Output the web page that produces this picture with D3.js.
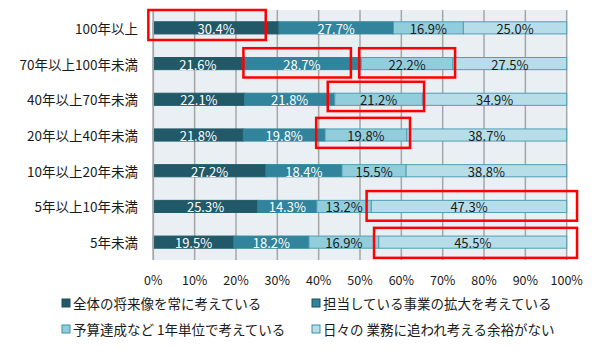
<!DOCTYPE html>
<html><head><meta charset="utf-8">
<script src="https://cdn.jsdelivr.net/npm/d3@7"></script>
<style>
html,body{margin:0;padding:0;background:#fff;}
text{font-family:"Noto Sans CJK JP","Noto Sans",sans-serif;}
</style></head>
<body><svg id="c" width="600" height="358"></svg>
<script>
const categories = ["100年以上","70年以上100年未満","40年以上70年未満","20年以上40年未満","10年以上20年未満","5年以上10年未満","5年未満"];
const seriesNames = ["全体の将来像を常に考えている","担当している事業の拡大を考えている","予算達成など 1年単位で考えている","日々の 業務に追われ考える余裕がない"];
const s1 = [30.4,21.6,22.1,21.8,27.2,25.3,19.5];
const s2 = [27.7,28.7,21.8,19.8,18.4,14.3,18.2];
const s3 = [16.9,22.2,21.2,19.8,15.5,13.2,16.9];
const s4 = [25.0,27.5,34.9,38.7,38.8,47.3,45.5];
const ticks = [0,10,20,30,40,50,60,70,80,90,100];
// highlight boxes in data units: row index, x range (%), y range (fraction of row step around center)
const highlights = [
  {row:0, x0:-1.2, x1:27.2, y0:-0.50, y1:0.34},
  {row:1, x0:21.8, x1:47.8, y0:-0.43, y1:0.39},
  {row:1, x0:49.8, x1:73.0, y0:-0.43, y1:0.39},
  {row:2, x0:42.2, x1:65.5, y0:-0.49, y1:0.33},
  {row:3, x0:39.4, x1:62.1, y0:-0.48, y1:0.36},
  {row:5, x0:51.6, x1:102.5, y0:-0.43, y1:0.40},
  {row:6, x0:53.4, x1:102.5, y0:-0.40, y1:0.44}
];

const colors = ["#215968","#31849b","#92cddc","#b7dee8"];
const labelColors = ["#ffffff","#ffffff","#1a1a1a","#1a1a1a"];
const series = [s1,s2,s3,s4];

const svg = d3.select("#c");
const L = 153.3, R = 566.7, T = 10, B = 260;
const x = d3.scaleLinear().domain([0,100]).range([L,R]);
const y = d3.scaleBand().domain(categories).range([T,B]).paddingInner(0.66).paddingOuter(0.33);
const step = y.step();

svg.append("rect").attr("x",L).attr("y",T).attr("width",R-L).attr("height",B-T).attr("fill","#e9eff3");
svg.append("g").selectAll("line").data(ticks).join("line")
  .attr("x1",d=>x(d)).attr("x2",d=>x(d)).attr("y1",T).attr("y2",B)
  .attr("stroke","#a6a6a6").attr("stroke-width",1.5);

const rows = categories.map((c,i)=>{
  const vals = series.map(s=>s[i]);
  const sum = d3.sum(vals);
  let acc = 0;
  return vals.map((v,k)=>{const a=acc/sum*100; acc+=v; return {cat:c,k,v,start:a,end:acc/sum*100};});
});

const g = svg.append("g");
rows.forEach(r=>{
  r.forEach(d=>{
    g.append("rect").attr("x",x(d.start)).attr("y",y(d.cat)).attr("width",x(d.end)-x(d.start)).attr("height",y.bandwidth())
      .attr("fill",colors[d.k]).attr("stroke",d.k<2?colors[d.k]:"#4f9fb5").attr("stroke-width",1);
    g.append("text").attr("x",(x(d.start)+x(d.end))/2).attr("y",y(d.cat)+y.bandwidth()/2+0.5)
      .attr("text-anchor","middle").attr("dominant-baseline","central")
      .attr("font-size",13).attr("fill",labelColors[d.k]).text(d.v.toFixed(1)+"%");
  });
});

svg.append("line").attr("x1",L).attr("x2",L).attr("y1",T).attr("y2",B).attr("stroke","#a6a6a6").attr("stroke-width",1.5);

svg.append("g").selectAll("text").data(categories).join("text")
  .attr("x",138).attr("y",d=>y(d)+y.bandwidth()/2).attr("text-anchor","end").attr("dominant-baseline","central")
  .attr("font-size",13.5).attr("fill","#1a1a1a").text(d=>d);

svg.append("g").selectAll("text").data(ticks).join("text")
  .attr("x",d=>x(d)).attr("y",279).attr("text-anchor","middle").attr("dominant-baseline","central")
  .attr("font-size",12.5).attr("fill","#1a1a1a").text(d=>d+"%");

const lx = [62,312], ly = [303,329];
seriesNames.forEach((n,i)=>{
  const cx = lx[i%2], cy = ly[Math.floor(i/2)];
  svg.append("rect").attr("x",cx).attr("y",cy-4).attr("width",8).attr("height",8)
    .attr("fill",colors[i]).attr("stroke",i<2?"#1f4e5a":"#3f8ea3").attr("stroke-width",1);
  svg.append("text").attr("x",cx+11).attr("y",cy).attr("dominant-baseline","central")
    .attr("font-size",13.5).attr("fill","#1a1a1a").text(n);
});

svg.append("g").selectAll("rect").data(highlights).join("rect")
  .attr("x",d=>x(d.x0)).attr("width",d=>x(d.x1)-x(d.x0))
  .attr("y",d=>y(categories[d.row])+y.bandwidth()/2+d.y0*step)
  .attr("height",d=>(d.y1-d.y0)*step)
  .attr("fill","none").attr("stroke","#ff0000").attr("stroke-width",2.5);
</script></body></html>
